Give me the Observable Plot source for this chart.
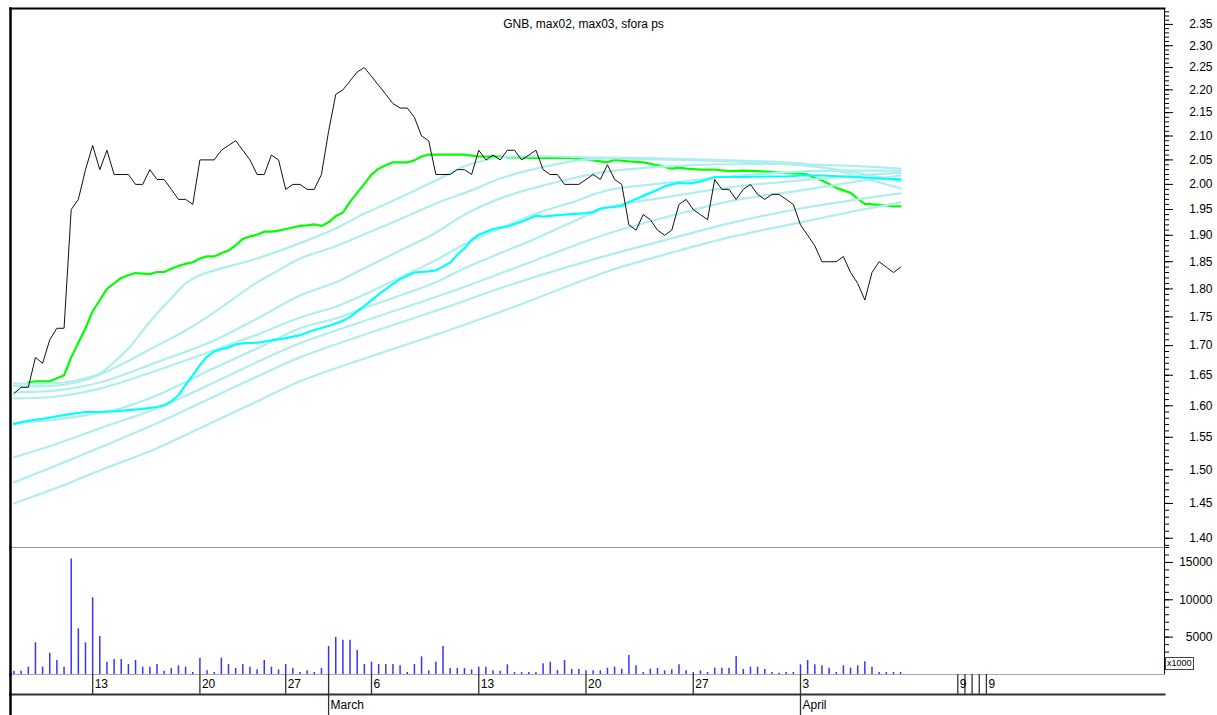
<!DOCTYPE html>
<html><head><meta charset="utf-8">
<script src="https://cdn.jsdelivr.net/npm/d3@7"></script>
<script src="https://cdn.jsdelivr.net/npm/@observablehq/plot@0.6"></script>
<style>
body{margin:0;background:#fff;font-family:"Liberation Sans",Arial,sans-serif;}
#chart{position:relative;width:1217px;height:715px;overflow:hidden;background:#fff;}
#chart svg{position:absolute;left:0;max-width:none;}
.x1000{position:absolute;left:1165px;top:657px;font:9px "Liberation Sans",Arial,sans-serif;border:1px solid #444;padding:0 1px;line-height:11px;background:#fff;color:#000;}
</style></head><body><div id="chart"></div>
<script>
const title = "GNB, max02, max03, sfora ps";

// closing price per bar (3 bars per trading day)
const close = [1.62,1.63,1.63,1.68,1.67,1.71,1.73,1.73,1.95,1.97,
2.03,2.08,2.03,2.07,2.02,2.02,2.02,2.00,2.00,2.03,
2.01,2.01,1.99,1.97,1.97,1.96,2.05,2.05,2.05,2.07,
2.08,2.09,2.07,2.05,2.02,2.02,2.06,2.05,1.99,2.00,
2.00,1.99,1.99,2.02,2.11,2.19,2.20,2.22,2.24,2.25,
2.23,2.21,2.19,2.17,2.16,2.16,2.14,2.10,2.09,2.02,
2.02,2.02,2.03,2.03,2.02,2.07,2.05,2.06,2.05,2.07,
2.07,2.05,2.06,2.07,2.03,2.02,2.02,2.00,2.00,2.00,
2.01,2.02,2.01,2.04,2.01,2.00,1.92,1.91,1.94,1.93,
1.91,1.90,1.91,1.96,1.97,1.95,1.94,1.93,2.01,1.99,
1.99,1.97,1.99,2.00,1.98,1.97,1.98,1.98,1.97,1.96,
1.92,1.90,1.88,1.85,1.85,1.85,1.86,1.83,1.81,1.78,
1.83,1.85,1.84,1.83,1.84];

const volume = [446,446,981,4237,981,2854,1873,981,15476,6110,
4237,10258,5084,1650,2007,2007,1338,1873,981,981,
1338,446,803,1160,981,268,2185,491,268,2185,
1338,803,1338,981,624,1873,981,624,1338,803,
268,491,268,803,3746,4951,4594,4594,3211,1338,
1650,1338,1338,1338,1160,268,1338,2364,491,1650,
3746,803,803,803,624,981,981,491,446,1293,
268,268,268,268,1427,1650,535,1873,669,669,
491,491,491,847,981,714,2542,1160,268,714,
803,491,624,1293,491,268,491,268,847,847,
847,2408,669,981,981,669,268,178,268,268,
1293,1873,1293,1160,847,268,1160,847,1160,1695,
981,268,268,268,268];

// [bar, value]
const green = [[2,1.638],[3,1.64],[5,1.64],[7,1.65],[8,1.68],[9,1.705],[10,1.73],[11,1.76],[12,1.78],[13,1.80],[14,1.81],[15,1.82],[16,1.825],[17,1.829],[18,1.828],[19,1.827],[20,1.831],[21,1.831],[22,1.837],[23,1.842],[24,1.846],[25,1.849],[26,1.856],[27,1.860],[28,1.860],[29,1.866],[30,1.871],[31,1.881],[32,1.893],[33,1.898],[34,1.901],[35,1.907],[36,1.907],[37,1.909],[38,1.912],[39,1.915],[40,1.918],[41,1.919],[42,1.921],[43,1.918],[44,1.925],[45,1.937],[46,1.944],[47,1.965],[48,1.983],[49,2.001],[50,2.020],[51,2.032],[52,2.039],[53,2.045],[55,2.045],[56,2.049],[57,2.057],[58,2.061],[63,2.061],[64,2.059],[65,2.057],[68,2.057],[69,2.055],[71,2.055],[72,2.054],[78,2.054],[79,2.052],[80,2.051],[81,2.049],[82,2.047],[83,2.045],[84,2.050],[86,2.047],[88,2.045],[90,2.039],[92,2.032],[93,2.034],[94,2.032],[96,2.030],[98,2.030],[100,2.027],[102,2.028],[104,2.027],[106,2.025],[108,2.023],[110,2.022],[111,2.020],[112,2.013],[113,2.008],[114,2.001],[115,1.993],[116,1.988],[117,1.983],[118,1.971],[119,1.961],[120,1.960],[121,1.959],[122,1.958],[123,1.956],[124,1.956]];

const cyan = [[0,1.571],[2,1.576],[4,1.579],[6,1.583],[8,1.587],[10,1.590],[12,1.590],[14,1.591],[16,1.593],[18,1.595],[20,1.598],[21,1.601],[22,1.607],[23,1.617],[24,1.634],[25,1.650],[26,1.667],[27,1.681],[28,1.690],[29,1.694],[30,1.697],[31,1.702],[32,1.704],[34,1.705],[36,1.709],[38,1.713],[40,1.718],[42,1.727],[44,1.734],[46,1.743],[47,1.750],[49,1.769],[51,1.790],[53,1.809],[54,1.818],[56,1.830],[58,1.832],[59,1.834],[61,1.848],[62,1.863],[63,1.875],[64,1.891],[65,1.901],[67,1.912],[69,1.917],[71,1.926],[73,1.938],[74,1.936],[76,1.939],[78,1.941],[80,1.943],[81,1.945],[82,1.952],[83,1.954],[84,1.955],[85,1.957],[86,1.965],[87,1.971],[88,1.977],[89,1.983],[90,1.989],[91,1.996],[92,2.000],[93,2.003],[94,2.002],[95,2.003],[96,2.006],[97,2.010],[98,2.015],[99,2.015],[102,2.015],[105,2.016],[108,2.016],[110,2.018],[113,2.018],[116,2.016],[119,2.014],[122,2.011],[124,2.010]];

const paleA = [[0,1.636],[7,1.638],[10,1.645],[12,1.653],[14,1.672],[16,1.695],[18,1.726],[20,1.756],[22,1.783],[24,1.810],[26,1.825],[28,1.834],[34,1.856],[40,1.885],[45,1.913],[49,1.942],[54,1.974],[59,2.008],[63,2.037],[68,2.055],[75,2.057],[82,2.055],[90,2.053],[100,2.049],[110,2.043],[114,2.032],[118,2.016],[121,2.004],[124,1.992]];
const paleB = [[0,1.632],[6,1.633],[10,1.642],[14,1.662],[20,1.700],[24,1.726],[28,1.758],[34,1.812],[37,1.834],[40,1.856],[45,1.879],[49,1.902],[54,1.931],[59,1.962],[64,1.988],[68,2.012],[73,2.032],[78,2.047],[83,2.053],[90,2.051],[100,2.047],[110,2.039],[116,2.028],[120,2.018],[124,2.006]];
const paleC = [[0,1.622],[6,1.625],[12,1.638],[20,1.672],[28,1.709],[34,1.747],[40,1.788],[45,1.812],[49,1.838],[54,1.871],[59,1.905],[63,1.940],[68,1.972],[73,1.994],[78,2.012],[83,2.026],[92,2.037],[100,2.041],[110,2.041],[118,2.037],[124,2.032]];
const paleD = [[0,1.612],[6,1.615],[12,1.628],[20,1.658],[28,1.692],[34,1.719],[40,1.749],[45,1.768],[49,1.790],[54,1.821],[59,1.853],[63,1.883],[68,1.913],[73,1.942],[78,1.964],[83,1.988],[92,2.004],[100,2.016],[110,2.026],[118,2.028],[124,2.028]];
const paleE = [[0,1.572],[6,1.578],[12,1.589],[15,1.596],[20,1.617],[28,1.662],[34,1.695],[40,1.730],[45,1.747],[49,1.766],[54,1.788],[59,1.812],[63,1.838],[68,1.866],[73,1.894],[78,1.925],[83,1.954],[92,1.976],[100,1.994],[110,2.008],[118,2.018],[124,2.024]];
const paleF = [[0,1.519],[6,1.540],[12,1.564],[20,1.596],[28,1.638],[34,1.672],[40,1.704],[50,1.747],[60,1.790],[70,1.838],[83,1.903],[92,1.938],[100,1.966],[110,1.988],[118,2.006],[124,2.018]];
const paleG = [[0,1.481],[6,1.507],[12,1.534],[20,1.572],[28,1.615],[34,1.648],[40,1.680],[50,1.723],[60,1.765],[70,1.810],[83,1.862],[92,1.894],[100,1.923],[110,1.952],[118,1.970],[124,1.982]];
const paleH = [[0,1.450],[6,1.473],[12,1.499],[20,1.533],[28,1.575],[34,1.607],[40,1.640],[50,1.682],[60,1.723],[70,1.768],[83,1.832],[92,1.867],[100,1.896],[110,1.925],[118,1.948],[124,1.964]];

const priceTicks = [1.40,1.45,1.50,1.55,1.60,1.65,1.70,1.75,1.80,1.85,1.90,1.95,2.00,2.05,2.10,2.15,2.20,2.25,2.30,2.35];
const volumeTicks = [5000,10000,15000];
const dayTickBar = [11,26,38,44,50,65,80,95,110,132,133,134,135,136];
const dayTickLabel = ["13","20","27","","6","13","20","27","3","9","","","","9"];
const monthTickBar = [44,110];
const monthTickLabel = ["March","April"];

// ---- build tables ----
const bars = close.map((c, i) => ({i, close: c, volume: volume[i]}));
const pts = arr => arr.map(([i, v]) => ({i, v}));
const paleLines = [paleA, paleB, paleC, paleD, paleE, paleF, paleG, paleH]
  .flatMap((arr, k) => arr.map(([i, v]) => ({i, v, k})));
const dayTicks = dayTickBar.map((i, j) => ({i, label: dayTickLabel[j]}));
const monthTicks = monthTickBar.map((i, j) => ({i, label: monthTickLabel[j]}));

const W = 1217, ML = 10, MR = 53;
const xScale = {domain: [-0.49, 160.91], axis: null};
const font = "Liberation Sans, Arial, sans-serif";
const baseStyle = {fontFamily: font, fontSize: "12px", color: "#000", background: "transparent", overflow: "visible"};
const minorPrice = d3.range(139, 239).map(d => d / 100);
const minorVol = d3.range(1000, 17001, 1000);

const price = Plot.plot({
  width: W, height: 547, marginLeft: ML, marginRight: MR, marginTop: 8, marginBottom: 0,
  style: baseStyle,
  x: xScale,
  y: {type: "log", domain: [1.387, 2.388], axis: null},
  marks: [
    Plot.lineY(pts(green), {x: "i", y: "v", stroke: "#00ff00", strokeWidth: 2.2}),
    Plot.lineY(paleLines, {x: "i", y: "v", z: "k", stroke: "#afeeee", strokeWidth: 2.2, curve: "catmull-rom"}),
    Plot.lineY(pts(cyan), {x: "i", y: "v", stroke: "#00ffff", strokeWidth: 2.2}),
    Plot.lineY(bars, {x: "i", y: "close", stroke: "#111", strokeWidth: 1}),
    Plot.axisY({ticks: minorPrice, anchor: "right", label: null, tickSize: 4, tickFormat: () => "", stroke: "#000"}),
    Plot.axisY({ticks: priceTicks, anchor: "right", label: null, tickSize: 8, tickPadding: 40, textAnchor: "end",
      tickFormat: d => d.toFixed(2), fontSize: 12, stroke: "#000"}),
    Plot.frame({anchor: "top", stroke: "#000", strokeWidth: 2}),
    Plot.frame({anchor: "left", stroke: "#000", strokeWidth: 2.5}),
    Plot.frame({anchor: "right", stroke: "#000"}),
    Plot.frame({anchor: "bottom", stroke: "#999"}),
    Plot.text([title], {frameAnchor: "top", dy: 11, dx: -4, fontSize: 12, fill: "#000"})
  ]
});

const vol = Plot.plot({
  width: W, height: 127, marginLeft: ML, marginRight: MR, marginTop: 0, marginBottom: 0,
  style: baseStyle,
  x: xScale,
  y: {domain: [0, 17000], axis: null, label: null},
  marks: [
    Plot.ruleX(bars, {x: "i", y: "volume", stroke: "#3535ff", strokeWidth: 1.5}),
    Plot.axisY({ticks: minorVol, anchor: "right", label: null, tickSize: 4, tickFormat: () => "", stroke: "#000"}),
    Plot.axisY({ticks: volumeTicks, anchor: "right", label: null, tickSize: 8, tickPadding: 40, textAnchor: "end",
      tickFormat: d => String(d), fontSize: 12, stroke: "#000"}),
    Plot.frame({anchor: "left", stroke: "#000", strokeWidth: 2.5}),
    Plot.frame({anchor: "right", stroke: "#000"})
  ]
});

const dayRow = Plot.plot({
  width: W, height: 20, marginLeft: ML, marginRight: MR, marginTop: 0, marginBottom: 0,
  style: baseStyle,
  x: xScale,
  marks: [
    Plot.frame({anchor: "top", stroke: "#aaa"}),
    Plot.frame({anchor: "bottom", stroke: "#333", strokeWidth: 2}),
    Plot.frame({anchor: "left", stroke: "#000", strokeWidth: 2.5}),
    Plot.ruleX(dayTicks, {x: "i", stroke: "#333", strokeWidth: 1.3}),
    Plot.text(dayTicks, {x: "i", text: "label", textAnchor: "start", dx: 2, frameAnchor: "middle", fontSize: 12, fill: "#000"})
  ]
});

const monthRow = Plot.plot({
  width: W, height: 21, marginLeft: ML, marginRight: MR, marginTop: 0, marginBottom: 0,
  style: baseStyle,
  x: xScale,
  marks: [
    Plot.frame({anchor: "left", stroke: "#000", strokeWidth: 2.5}),
    Plot.ruleX(monthTicks, {x: "i", stroke: "#333", strokeWidth: 1.3}),
    Plot.text(monthTicks, {x: "i", text: "label", textAnchor: "start", dx: 2, frameAnchor: "middle", fontSize: 12, fill: "#000"})
  ]
});

const chart = document.getElementById("chart");
[[price, 0], [vol, 547], [dayRow, 674], [monthRow, 694]].forEach(([svg, top]) => {
  svg.style.top = top + "px";
  chart.appendChild(svg);
});
const box = document.createElement("div");
box.className = "x1000";
box.textContent = "x1000";
chart.appendChild(box);
</script></body></html>
